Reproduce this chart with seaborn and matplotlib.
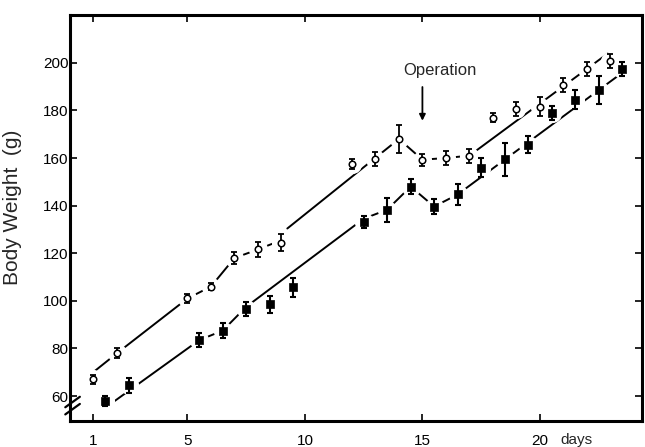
import numpy as np
import pandas as pd
import matplotlib
matplotlib.use("Agg")
import matplotlib.pyplot as plt
import seaborn as sns

# open circles (upper group)
days_o = [1, 2, 5, 6, 7, 8, 9, 12, 13, 14, 15, 16, 17, 18, 19, 20, 21, 22, 23]
wt_o = [67, 78, 101, 106, 118, 121.6, 124.5, 157.6, 159.7, 168, 159.3, 160, 161,
        177, 180.7, 181.5, 190.8, 197.4, 200.8]
err_o = [2, 2, 2, 1.5, 2.5, 3, 3.5, 2, 3, 6, 2.5, 3, 3, 2, 3, 4, 3, 3, 3]

# filled squares (lower group)
days_s = [1.5, 2.5, 5.5, 6.5, 7.5, 8.5, 9.5, 12.5, 13.5, 14.5, 15.5, 16.5, 17.5,
          18.5, 19.5, 20.5, 21.5, 22.5, 23.5]
wt_s = [58, 64.5, 83.5, 87.5, 96.5, 98.6, 105.8, 133, 138.3, 148, 139.6, 144.7, 156,
        159.4, 165.6, 179, 184.5, 188.5, 197.4]
err_s = [2, 3, 3, 3, 3, 3.5, 4, 2.5, 5, 3, 3, 4.5, 4, 7, 3.5, 3, 4, 6, 3]

# drawn trend lines (segment id, day, weight)
line_o_seg = [0, 0, 0, 0, 0, 0, 0, 1, 1, 1, 1, 1, 2, 2]
line_o_day = [1.05, 2, 5, 6, 7, 8, 9, 9.25, 14, 15, 16, 17, 17, 22.9]
line_o_wt = [70.5, 78, 101, 106, 118, 121.6, 125.5, 130.4, 168, 159.3, 160, 161, 161, 204]

line_s_seg = [0] * 10
line_s_day = [1.7, 5.5, 6.5, 7.5, 12.5, 13.5, 14.5, 15.5, 16.5, 23.5]
line_s_wt = [56.5, 83.5, 87.5, 97.5, 134.5, 138.3, 148, 139.6, 144.7, 195.8]

sns.set_style("ticks")
plt.rcParams["font.family"] = ["Liberation Sans", "DejaVu Sans"]

fig = plt.figure(figsize=(6.45, 4.47), dpi=100)
ax = fig.add_axes([0.1085, 0.058, 0.887, 0.908])

lines = pd.concat([
    pd.DataFrame({"seg": ["o%d" % s for s in line_o_seg], "day": line_o_day, "wt": line_o_wt}),
    pd.DataFrame({"seg": ["s%d" % s for s in line_s_seg], "day": line_s_day, "wt": line_s_wt}),
])
sns.lineplot(data=lines, x="day", y="wt", units="seg", estimator=None, sort=False,
             color="black", lw=1.4, ax=ax, zorder=1)

# white halos make the gaps round the points
ax.scatter(days_o, wt_o, s=190, color="white", zorder=2, lw=0)
ax.scatter(days_s, wt_s, s=190, color="white", zorder=2, lw=0)

ax.errorbar(days_o, wt_o, yerr=err_o, fmt="none", ecolor="black", elinewidth=1.3,
            capsize=2.5, capthick=1.3, zorder=3)
ax.errorbar(days_s, wt_s, yerr=err_s, fmt="none", ecolor="black", elinewidth=1.5,
            capsize=2.5, capthick=1.5, zorder=3)
sns.scatterplot(x=days_o, y=wt_o, marker="o", s=22, facecolor="white", edgecolor="black",
                linewidth=1.1, ax=ax, zorder=4)
sns.scatterplot(x=days_s, y=wt_s, marker="s", s=30, color="black", edgecolor="black",
                linewidth=0.5, ax=ax, zorder=4)

ax.set_xlim(0, 24.35)
ax.set_ylim(49.5, 220)
ax.set_xticks([1, 5, 10, 15, 20])
ax.set_xticklabels(["1", "5", "10", "15", "20"])
ax.set_yticks([60, 80, 100, 120, 140, 160, 180, 200])
ax.tick_params(direction="in", length=5, width=1.2, top=True, right=True,
               labelsize=11, colors="black")
ax.tick_params(axis="y", pad=1)
ax.tick_params(axis="x", pad=9)
ax.text(21.55, -0.047, "days", fontsize=11, ha="center", va="center",
        transform=ax.get_xaxis_transform())
ax.set_xlabel("")
ax.set_ylabel("Body Weight  (g)", fontsize=15)
ax.yaxis.set_label_coords(-0.083, 0.526)
for sp in ax.spines.values():
    sp.set_linewidth(2.2)
    sp.set_color("black")

# axis break marks
for yy in (54.5, 57.5):
    ax.plot([-0.2, 0.42], [yy - 2.2, yy + 2.2], color="black", lw=1.6,
            clip_on=False, zorder=5)

ax.text(15.75, 196.6, "Operation", fontsize=12, ha="center", va="center")
ax.annotate("", xy=(15, 174.5), xytext=(15, 191),
            arrowprops=dict(arrowstyle="-|>", color="black", lw=1.3, mutation_scale=9))

fig.savefig("out.png", dpi=100)
